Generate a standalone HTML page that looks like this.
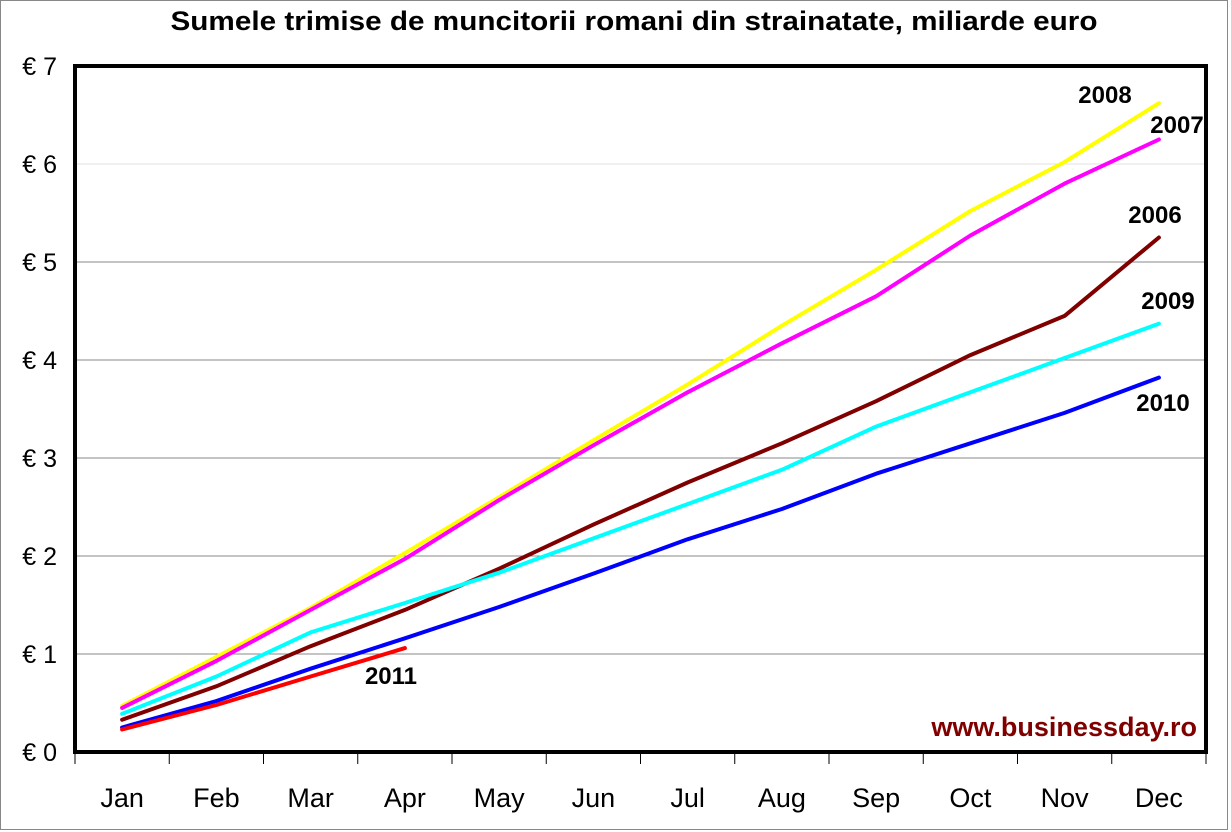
<!DOCTYPE html>
<html><head><meta charset="utf-8"><style>
html,body{margin:0;padding:0;background:#fff}
svg{display:block;font-family:"Liberation Sans",Arial,sans-serif}
</style></head><body>
<svg width="1231" height="832" viewBox="0 0 1231 832" id="chart">
<rect x="0.5" y="0.5" width="1227" height="829" fill="#fff" stroke="#888" stroke-width="1"/>
<text x="634" y="30" text-anchor="middle" font-size="27" font-weight="bold" textLength="927" lengthAdjust="spacingAndGlyphs">Sumele trimise de muncitorii romani din strainatate, miliarde euro</text>
<g id="grid"></g><g id="series"></g><g id="axes"></g>
<text x="1197" y="736" text-anchor="end" font-size="27" font-weight="bold" fill="#800000">www.businessday.ro</text>
</svg>
<script>
const months=["Jan","Feb","Mar","Apr","May","Jun","Jul","Aug","Sep","Oct","Nov","Dec"];
const yTicks=[0,1,2,3,4,5,6,7];
const s2008=[0.47,0.97,1.47,2.03,2.6,3.18,3.75,4.35,4.92,5.52,6.02,6.62];
const s2007=[0.45,0.93,1.45,1.97,2.57,3.13,3.67,4.17,4.65,5.27,5.8,6.25];
const s2006=[0.33,0.67,1.08,1.45,1.87,2.32,2.75,3.15,3.58,4.05,4.45,5.25];
const s2009=[0.39,0.77,1.22,1.52,1.83,2.18,2.53,2.88,3.32,3.67,4.02,4.37];
const s2010=[0.25,0.52,0.85,1.16,1.48,1.82,2.17,2.48,2.84,3.15,3.46,3.82];
const s2011=[0.23,0.48,0.77,1.06];
const seriesNames=["2008","2007","2006","2009","2010","2011"];
const seriesColors=["#ffff00","#ff00ff","#800000","#00ffff","#0000ff","#ff0000"];
const seriesData=[s2008,s2007,s2006,s2009,s2010,s2011];

const NS="http://www.w3.org/2000/svg";
const L=75,R=1206,T=66,B=752;
const step=(R-L)/months.length;
const xS=i=>L+step*(i+0.5);
const yS=v=>B-(B-T)*v/7;
function mk(tag,attrs,parent,txt){const e=document.createElementNS(NS,tag);for(const k in attrs)e.setAttribute(k,attrs[k]);if(txt!==undefined)e.textContent=txt;parent.appendChild(e);return e;}
const grid=document.getElementById('grid'),ser=document.getElementById('series'),ax=document.getElementById('axes');
yTicks.forEach(v=>{
  if(v>0&&v<7){const g=mk('line',{x1:L,x2:R,y1:yS(v),y2:yS(v),stroke:v===6?'#e0e0e0':'#888','stroke-width':1},grid);
  
  }
  const t=mk('text',{x:57,y:yS(v)+9,'text-anchor':'end','font-size':25},ax,'€ '+v);
  
  
});
const frame=mk('rect',{x:L,y:T,width:R-L,height:B-T,fill:'none',stroke:'#000','stroke-width':4},ax);


for(let i=0;i<=months.length;i++){
  const tk=mk('line',{x1:L+step*i,x2:L+step*i,y1:B,y2:B+12,stroke:'#000','stroke-width':1},ax);
  
  
}
months.forEach((m,i)=>{
  const t=mk('text',{x:xS(i),y:807,'text-anchor':'middle','font-size':27},ax,m);
  
  
});
seriesData.forEach((d,si)=>{
  const pts=d.map((v,i)=>xS(i).toFixed(1)+','+yS(v).toFixed(1)).join(' ');
  const p=mk('polyline',{points:pts,fill:'none',stroke:seriesColors[si],'stroke-width':4,'stroke-linejoin':'round','stroke-linecap':'round'},ser);
  
  
});
const labelPos={"2008":[1105,103],"2007":[1177,133],"2006":[1155,223],"2009":[1168,309],"2010":[1163,411],"2011":[391,684]};
seriesNames.forEach(n=>{
  const t=mk('text',{x:labelPos[n][0],y:labelPos[n][1],'text-anchor':'middle','font-size':24,'font-weight':'bold'},ax,n);
  
  
});
</script>
</body></html>
